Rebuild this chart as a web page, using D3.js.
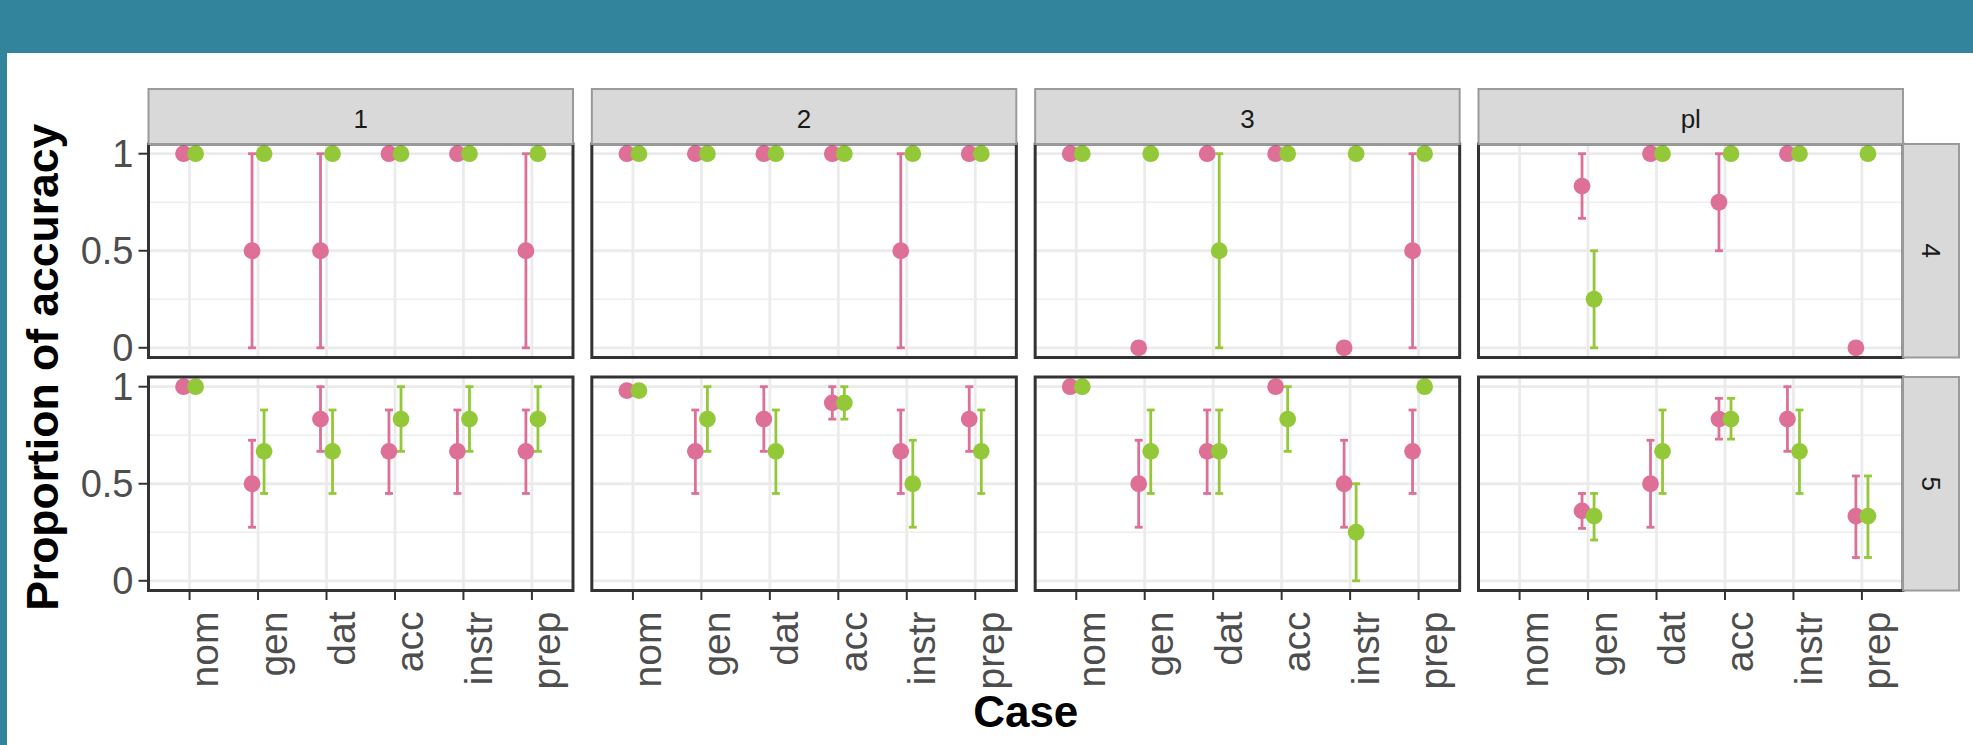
<!DOCTYPE html>
<html>
<head>
<meta charset="utf-8">
<script src="https://cdn.jsdelivr.net/npm/d3@7"></script>
<style>
  html, body { margin: 0; padding: 0; background: #fff; }
  svg { display: block; }
</style>
</head>
<body>
<svg id="chart" width="1973" height="745"></svg>
<script>
// Facet levels and categories
const cases   = ["nom", "gen", "dat", "acc", "instr", "prep"];
const persons = ["1", "2", "3", "pl"];
const numbers = ["4", "5"];
const yTicks  = [0, 0.5, 1];
const yTickLabels = ["0", "0.5", "1"];

// Proportion of accuracy, one row per person (1, 2, 3, pl), one value per case.
// null = no observation / no interval.
// Number 4, series A
const mean4A = [[1, 0.5, 0.5, 1, 1, 0.5], [1, 1, 1, 1, 0.5, 1], [1, 0, 1, 1, 0, 0.5], [null, 0.833, 1, 0.75, 1, 0]];
const lo4A   = [[null, 0, 0, null, null, 0], [null, null, null, null, 0, null], [null, null, null, null, null, 0], [null, 0.667, null, 0.5, null, null]];
const hi4A   = [[null, 1, 1, null, null, 1], [null, null, null, null, 1, null], [null, null, null, null, null, 1], [null, 1, null, 1, null, null]];
// Number 4, series B
const mean4B = [[1, 1, 1, 1, 1, 1], [1, 1, 1, 1, 1, 1], [1, 1, 0.5, 1, 1, 1], [null, 0.25, 1, 1, 1, 1]];
const lo4B   = [[null, null, null, null, null, null], [null, null, null, null, null, null], [null, null, 0, null, null, null], [null, 0, null, null, null, null]];
const hi4B   = [[null, null, null, null, null, null], [null, null, null, null, null, null], [null, null, 1, null, null, null], [null, 0.5, null, null, null, null]];
// Number 5, series A
const mean5A = [[1, 0.5, 0.833, 0.667, 0.667, 0.667], [0.98, 0.667, 0.833, 0.917, 0.667, 0.833], [1, 0.5, 0.667, 1, 0.5, 0.667], [null, 0.36, 0.5, 0.833, 0.833, 0.333]];
const lo5A   = [[null, 0.276, 0.667, 0.45, 0.45, 0.45], [null, 0.45, 0.667, 0.833, 0.45, 0.667], [null, 0.276, 0.45, null, 0.276, 0.45], [null, 0.27, 0.276, 0.73, 0.667, 0.12]];
const hi5A   = [[null, 0.724, 1, 0.88, 0.88, 0.88], [null, 0.88, 1, 1, 0.88, 1], [null, 0.724, 0.88, null, 0.724, 0.88], [null, 0.45, 0.724, 0.94, 1, 0.54]];
// Number 5, series B
const mean5B = [[1, 0.667, 0.667, 0.833, 0.833, 0.833], [0.98, 0.833, 0.667, 0.917, 0.5, 0.667], [1, 0.667, 0.667, 0.833, 0.25, 1], [null, 0.333, 0.667, 0.833, 0.667, 0.333]];
const lo5B   = [[null, 0.45, 0.45, 0.667, 0.667, 0.667], [null, 0.667, 0.45, 0.833, 0.276, 0.45], [null, 0.45, 0.45, 0.667, 0, null], [null, 0.21, 0.45, 0.73, 0.45, 0.12]];
const hi5B   = [[null, 0.88, 0.88, 1, 1, 1], [null, 1, 0.88, 1, 0.724, 0.88], [null, 0.88, 0.88, 1, 0.5, null], [null, 0.45, 0.88, 0.94, 0.88, 0.54]];

// Assemble long-format rows for drawing
const tables = {
  "4": [{ s: 0, mean: mean4A, lo: lo4A, hi: hi4A }, { s: 1, mean: mean4B, lo: lo4B, hi: hi4B }],
  "5": [{ s: 0, mean: mean5A, lo: lo5A, hi: hi5A }, { s: 1, mean: mean5B, lo: lo5B, hi: hi5B }]
};
const rows = [];
numbers.forEach(n => tables[n].forEach(t => persons.forEach((p, pi) => cases.forEach((c, ci) => {
  const v = t.mean[pi][ci];
  if (v == null) return;
  rows.push({ number: n, person: p, c, s: t.s, v, lo: t.lo[pi][ci], hi: t.hi[pi][ci] });
}))));

// Styling
const W = 1973, H = 745;
const FONT = "'Liberation Sans', Arial, Helvetica, sans-serif";
const seriesColor = ["#de6f96", "#93c839"];
const teal = "#31849b";

const svg = d3.select("#chart").style("font-family", FONT);
svg.append("rect").attr("width", W).attr("height", H).attr("fill", "#fff");
svg.append("rect").attr("x", 0).attr("y", 0).attr("width", W).attr("height", 53).attr("fill", teal);
svg.append("rect").attr("x", 0).attr("y", 0).attr("width", 7).attr("height", H).attr("fill", teal);

// Facet layout
const colX = d3.scaleBand().domain(persons).range([148.5, 1903]).paddingInner(0.0425);
const rowY = d3.scaleBand().domain(numbers).range([144, 590.5]).paddingInner(0.0837);
const pw = colX.bandwidth(), ph = rowY.bandwidth();

const x = d3.scalePoint().domain(cases).range([0, pw]).padding(0.6);
const y = d3.scaleLinear().domain([-0.05, 1.05]).range([ph, 0]);
const step = x.step();
const dodge = step * 0.088;
const capHalf = step * 0.058;

numbers.forEach(n => persons.forEach(p => {
  const g = svg.append("g").attr("transform", `translate(${colX(p)},${rowY(n)})`);
  g.append("rect").attr("width", pw).attr("height", ph).attr("fill", "#fff");

  // grid
  g.selectAll(".minor").data([0.25, 0.75]).join("line")
    .attr("x1", 0).attr("x2", pw).attr("y1", d => y(d)).attr("y2", d => y(d))
    .attr("stroke", "#ededed").attr("stroke-width", 1.6);
  g.selectAll(".majorY").data(yTicks).join("line")
    .attr("x1", 0).attr("x2", pw).attr("y1", d => y(d)).attr("y2", d => y(d))
    .attr("stroke", "#ebebeb").attr("stroke-width", 2.8);
  g.selectAll(".majorX").data(cases).join("line")
    .attr("x1", d => x(d)).attr("x2", d => x(d)).attr("y1", 0).attr("y2", ph)
    .attr("stroke", "#ebebeb").attr("stroke-width", 2.8);

  const sub = rows.filter(d => d.number === n && d.person === p);
  const cx = d => x(d.c) + (d.s === 0 ? -dodge : dodge);

  // error bars
  const eb = sub.filter(d => d.lo != null && d.hi != null);
  const bars = g.selectAll(".eb").data(eb).join("g").attr("stroke", d => seriesColor[d.s]).attr("stroke-width", 2.8);
  bars.append("line").attr("x1", cx).attr("x2", cx).attr("y1", d => y(d.lo)).attr("y2", d => y(d.hi));
  bars.append("line").attr("x1", d => cx(d) - capHalf).attr("x2", d => cx(d) + capHalf).attr("y1", d => y(d.lo)).attr("y2", d => y(d.lo));
  bars.append("line").attr("x1", d => cx(d) - capHalf).attr("x2", d => cx(d) + capHalf).attr("y1", d => y(d.hi)).attr("y2", d => y(d.hi));

  // points (series A first, then B on top)
  g.selectAll(".pt").data(sub.slice().sort((a, b) => a.s - b.s)).join("circle")
    .attr("cx", cx).attr("cy", d => y(d.v)).attr("r", 8.4)
    .attr("fill", d => seriesColor[d.s]);

  g.append("rect").attr("width", pw).attr("height", ph)
    .attr("fill", "none").attr("stroke", "#333333").attr("stroke-width", 3);
}));

// Top strips
persons.forEach(p => {
  svg.append("rect").attr("x", colX(p)).attr("y", 89).attr("width", pw).attr("height", 55)
    .attr("fill", "#d9d9d9").attr("stroke", "#9a9a9a").attr("stroke-width", 2);
  svg.append("text").attr("x", colX(p) + pw / 2).attr("y", 128)
    .attr("text-anchor", "middle").attr("font-size", 26).attr("fill", "#1a1a1a").text(p);
});
// Right strips
numbers.forEach(n => {
  svg.append("rect").attr("x", 1903).attr("y", rowY(n)).attr("width", 56).attr("height", ph)
    .attr("fill", "#d9d9d9").attr("stroke", "#9a9a9a").attr("stroke-width", 2);
  svg.append("text").attr("transform", `translate(1921.5,${rowY(n) + ph / 2}) rotate(90)`)
    .attr("text-anchor", "middle").attr("font-size", 26).attr("fill", "#1a1a1a").text(n);
});

// Y axes (left column)
numbers.forEach(n => {
  const top = rowY(n), left = colX(persons[0]);
  yTicks.forEach((t, i) => {
    svg.append("line").attr("x1", left - 10).attr("x2", left).attr("y1", top + y(t)).attr("y2", top + y(t))
      .attr("stroke", "#333333").attr("stroke-width", 2);
    svg.append("text").attr("x", left - 15).attr("y", top + y(t)).attr("dy", "0.36em")
      .attr("text-anchor", "end").attr("font-size", 38).attr("fill", "#4d4d4d").text(yTickLabels[i]);
  });
});

// X axes (bottom row)
const bottom = rowY(numbers[numbers.length - 1]) + ph;
persons.forEach(p => {
  cases.forEach(c => {
    const tx = colX(p) + x(c);
    svg.append("line").attr("x1", tx).attr("x2", tx).attr("y1", bottom).attr("y2", bottom + 9.5)
      .attr("stroke", "#333333").attr("stroke-width", 2);
    svg.append("text").attr("transform", `translate(${tx + 28.5},${bottom + 21}) rotate(-90)`)
      .attr("text-anchor", "end").attr("font-size", 39).attr("fill", "#4d4d4d").text(c);
  });
});

// Axis titles
svg.append("text").attr("transform", `translate(58,${(144 + 590.5) / 2}) rotate(-90)`)
  .attr("text-anchor", "middle").attr("font-size", 44.5).attr("font-weight", "bold").attr("fill", "#000")
  .text("Proportion of accuracy");
svg.append("text").attr("x", (148.5 + 1903) / 2).attr("y", 726.5)
  .attr("text-anchor", "middle").attr("font-size", 44).attr("font-weight", "bold").attr("fill", "#000")
  .text("Case");
</script>
</body>
</html>
